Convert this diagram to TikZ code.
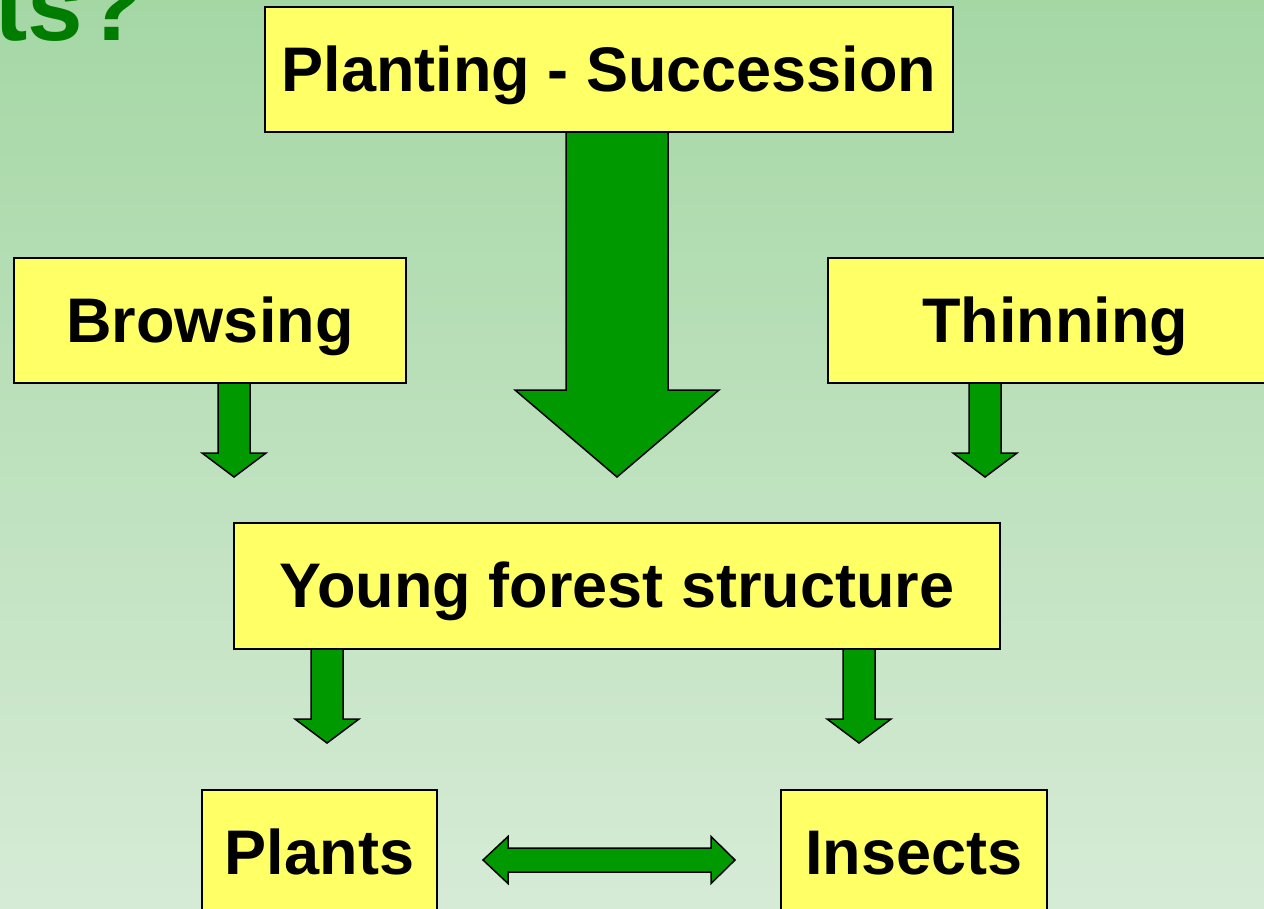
\documentclass[tikz,border=0pt]{standalone}
\usepackage{fontspec}
\setmainfont{Liberation Sans}
\definecolor{bgtop}{RGB}{165,215,165}
\definecolor{bgbot}{RGB}{214,235,214}
\definecolor{boxyellow}{RGB}{255,255,102}
\definecolor{arrowgreen}{RGB}{0,153,0}
\definecolor{titlegreen}{RGB}{0,125,0}
\tikzset{
  box/.style={draw=black, line width=1.5pt, fill=boxyellow, inner sep=0pt,
    font=\fontsize{63}{70}\selectfont\bfseries, text height=57pt, text depth=13.4pt,
    anchor=center},
  blockarrow/.style={draw=black, line width=1.5pt, fill=arrowgreen, line join=miter},
}
% x centre, top y, shaft half width, head half width, head start y, tip y
\newcommand\downblock[6]{%
  \draw[blockarrow] (#1-#3,#2) -- (#1-#3,#5) -- (#1-#4,#5) -- (#1,#6) -- (#1+#4,#5)
    -- (#1+#3,#5) -- (#1+#3,#2) -- cycle;}
\begin{document}
\begin{tikzpicture}[x=1pt,y=-1pt]
\useasboundingbox (0,0) rectangle (1264,909);
\shade[top color=bgtop, bottom color=bgbot] (0,0) rectangle (1264,909);
\begin{scope}
\clip (0,0) rectangle (1264,909);
\node[font=\fontsize{100}{110}\selectfont\bfseries, text=titlegreen, inner sep=0pt, anchor=base west] (title) at (-6,41) {ts?};
% arrows
\downblock{617}{132}{51}{102}{390}{477}
\downblock{234}{383}{16}{32}{453}{477}
\downblock{985}{383}{16}{32}{453}{477}
\downblock{327}{649}{16}{32}{719}{743}
\downblock{859}{649}{16}{32}{719}{743}
\draw[blockarrow] (483,860) -- (508,836.5) -- (508,848) -- (711,848) -- (711,836.5) -- (735,860)
  -- (711,883.5) -- (711,872) -- (508,872) -- (508,883.5) -- cycle;
% boxes
\node[box, minimum width=688pt, minimum height=125pt] (plant) at (609,69.5) {Planting - Succession};
\node[box, minimum width=392pt, minimum height=125pt] (browse) at (210,320.5) {Browsing};
\node[box, minimum width=454pt, minimum height=125pt] (thin) at (1055,320.5) {Thinning};
\node[box, minimum width=766pt, minimum height=126pt] (young) at (617,586) {Young forest structure};
\node[box, minimum width=235pt, minimum height=125pt] (plants) at (319.5,852.5) {Plants};
\node[box, minimum width=266pt, minimum height=125pt] (insects) at (914,852.5) {Insects};
\end{scope}
\end{tikzpicture}
\end{document}
